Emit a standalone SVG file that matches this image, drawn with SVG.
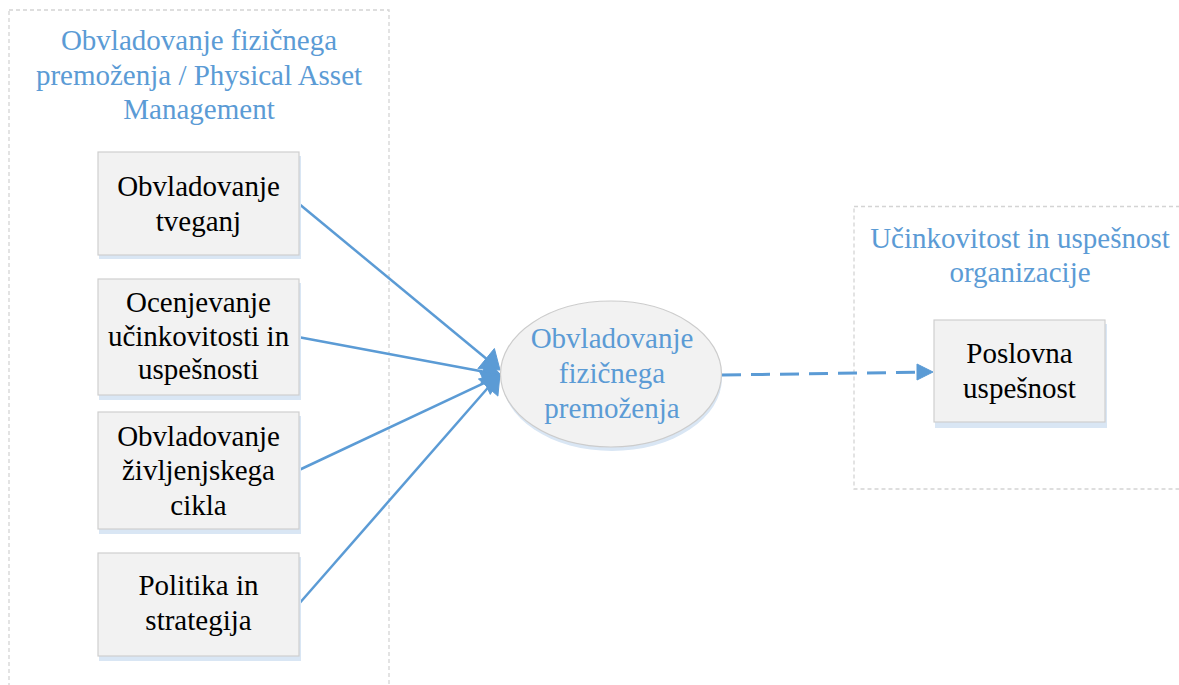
<svg xmlns="http://www.w3.org/2000/svg" width="1179" height="685" viewBox="0 0 1179 685">
  <style>
    .container { fill: none; stroke: #d4d4d4; stroke-width: 1.3; stroke-dasharray: 4 3; }
    .box { fill: #f2f2f2; stroke: #cfcfcf; stroke-width: 1.2; }
    .shadow { fill: #d9e6f4; }
    .title { font-family: "Liberation Serif", "Times New Roman", serif; font-size: 29px; fill: #5b9bd5; text-anchor: middle; }
    .label { font-family: "Liberation Serif", "Times New Roman", serif; font-size: 29px; fill: #000000; text-anchor: middle; }
    .conn { fill: none; stroke: #5b9bd5; stroke-width: 2.5; }
    .dash { stroke-dasharray: 19 10; stroke-width: 3; }
    .head { fill: #5b9bd5; stroke: #5b9bd5; stroke-width: 1; stroke-linejoin: round; }
  </style>
  <rect width="1179" height="685" fill="#ffffff"/>

  <g id="container-pam">
    <rect class="container" x="9" y="10" width="380" height="690"/>
    <text class="title" x="199" y="50">Obvladovanje fizičnega</text>
    <text class="title" x="199" y="84.5">premoženja / Physical Asset</text>
    <text class="title" x="199" y="119">Management</text>
  </g>

  <g id="container-org">
    <rect class="container" x="854" y="206.5" width="340" height="282.5"/>
    <text class="title" x="1020" y="248">Učinkovitost in uspešnost</text>
    <text class="title" x="1020" y="282">organizacije</text>
  </g>

  <g id="connectors">
    <line class="conn" x1="298" y1="203" x2="487" y2="359.3"/>
    <polygon class="head" points="500,370 477.9,368.6 494.4,348.5"/>
    <line class="conn" x1="298" y1="337" x2="484" y2="371.8"/>
    <polygon class="head" points="501,375 480.9,384.5 485.7,358.9"/>
    <line class="conn" x1="298" y1="470.5" x2="485.5" y2="382.3"/>
    <polygon class="head" points="501,375 490.3,394.4 479.2,370.9"/>
    <line class="conn" x1="298" y1="605" x2="488.8" y2="386.8"/>
    <polygon class="head" points="500,374 497.9,396.1 478.4,379"/>
    <line class="conn dash" x1="722" y1="375" x2="918" y2="372.2"/>
    <polygon class="head" points="933,372 917,364 917,380"/>
  </g>

  <g id="node-tveganj">
    <rect class="shadow" x="99" y="156" width="202" height="103"/>
    <rect class="box" x="98" y="152" width="201" height="103"/>
    <text class="label" x="198.5" y="196">Obvladovanje</text>
    <text class="label" x="198.5" y="231">tveganj</text>
  </g>

  <g id="node-ocenjevanje">
    <rect class="shadow" x="99" y="283" width="202" height="117"/>
    <rect class="box" x="98" y="279" width="201" height="116"/>
    <text class="label" x="198.5" y="312">Ocenjevanje</text>
    <text class="label" x="198.5" y="345.5">učinkovitosti in</text>
    <text class="label" x="198.5" y="379">uspešnosti</text>
  </g>

  <g id="node-zivljenjski">
    <rect class="shadow" x="99" y="416" width="202" height="118"/>
    <rect class="box" x="98" y="412" width="201" height="117"/>
    <text class="label" x="198.5" y="445.5">Obvladovanje</text>
    <text class="label" x="198.5" y="480">življenjskega</text>
    <text class="label" x="198.5" y="514.5">cikla</text>
  </g>

  <g id="node-politika">
    <rect class="shadow" x="99" y="557" width="202" height="104"/>
    <rect class="box" x="98" y="553" width="201" height="103"/>
    <text class="label" x="198.5" y="595">Politika in</text>
    <text class="label" x="198.5" y="630">strategija</text>
  </g>

  <g id="node-center">
    <ellipse cx="612" cy="378" rx="110" ry="73" fill="#d9e6f4"/>
    <ellipse cx="611" cy="374" rx="110.5" ry="73" fill="#f2f2f2" stroke="#cccccc" stroke-width="1.2"/>
    <text class="title" x="612" y="348">Obvladovanje</text>
    <text class="title" x="612" y="383">fizičnega</text>
    <text class="title" x="612" y="418">premoženja</text>
  </g>

  <g id="node-poslovna">
    <rect class="shadow" x="935" y="324" width="172" height="104"/>
    <rect class="box" x="934" y="320" width="171" height="102"/>
    <text class="label" x="1019.5" y="363">Poslovna</text>
    <text class="label" x="1019.5" y="398">uspešnost</text>
  </g>
</svg>
